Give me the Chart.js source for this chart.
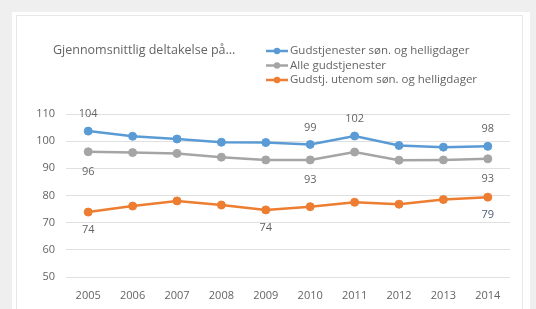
<!DOCTYPE html>
<html>
<head>
<meta charset="utf-8">
<script src="https://cdn.jsdelivr.net/npm/chart.js@4"></script>
<style>
  html, body { margin: 0; padding: 0; background: #efefef; }
  #wrap { position: relative; width: 536px; height: 309px; }
</style>
</head>
<body>
<div id="wrap"><canvas id="chart" width="536" height="309"></canvas></div>
<script>
const years = ['2005', '2006', '2007', '2008', '2009', '2010', '2011', '2012', '2013', '2014'];
const sondag = [103.7, 101.8, 100.8, 99.6, 99.5, 98.8, 101.9, 98.4, 97.8, 98.1];
const alle = [96.1, 95.8, 95.5, 94.1, 93.1, 93.1, 96.0, 93.0, 93.1, 93.5];
const utenom = [73.9, 76.1, 78.0, 76.5, 74.7, 75.9, 77.5, 76.8, 78.5, 79.4];
const labelsSondag = { 0: '104', 5: '99', 6: '102', 9: '98' };
const labelsAlle = { 0: '96', 5: '93', 9: '93' };
const labelsUtenom = { 0: '74', 4: '74', 9: '79' };
const seriesNames = ['Gudstjenester søn. og helligdager', 'Alle gudstjenester', 'Gudstj. utenom søn. og helligdager'];
const chartTitle = 'Gjennomsnittlig deltakelse på...';

const FONT = '"Open Sans", "Liberation Sans", sans-serif';
const TEXT = '#646464';
const colors = ['#5b9bd5', '#a5a5a5', '#ed7d31'];

// card, title, legend and value labels
const decor = {
  id: 'decor',
  beforeDraw(chart) {
    const c = chart.ctx;
    c.save();
    c.fillStyle = '#efefef';
    c.fillRect(0, 0, chart.width, chart.height);
    c.fillStyle = '#ffffff';
    c.fillRect(12, 12, 518, 300);
    c.strokeStyle = '#e8e8e8';
    c.lineWidth = 1;
    c.strokeRect(16.5, 15.5, 506, 300);
    c.restore();
  },
  afterDatasetsDraw(chart) {
    const c = chart.ctx;
    c.save();
    c.fillStyle = TEXT;
    c.font = '12.5px ' + FONT;
    c.textBaseline = 'middle';
    c.fillText(chartTitle, 53, 50);

    c.font = '11.5px ' + FONT;
    chart.data.datasets.forEach((ds, i) => {
      const y = 51 + i * 14.5;
      c.strokeStyle = ds.borderColor;
      c.lineWidth = 2.5;
      c.beginPath();
      c.moveTo(266, y);
      c.lineTo(288, y);
      c.stroke();
      c.fillStyle = ds.borderColor;
      c.beginPath();
      c.arc(277, y, 3.2, 0, Math.PI * 2);
      c.fill();
      c.fillStyle = TEXT;
      c.textAlign = 'left';
      c.fillText(ds.label, 290, y);
    });

    const sets = [[labelsSondag, -17], [labelsAlle, 20], [labelsUtenom, 18]];
    c.font = '11px ' + FONT;
    c.textAlign = 'center';
    sets.forEach(([lbls, dy], i) => {
      const meta = chart.getDatasetMeta(i);
      Object.keys(lbls).forEach(k => {
        const pt = meta.data[+k];
        c.fillStyle = (i === 2 && +k === 9) ? '#4f5a78' : TEXT;
        c.fillText(lbls[k], pt.x, pt.y + dy);
      });
    });
    c.restore();
  }
};

new Chart(document.getElementById('chart'), {
  type: 'line',
  data: {
    labels: years,
    datasets: [sondag, alle, utenom].map((d, i) => ({
      label: seriesNames[i],
      data: d,
      borderColor: colors[i],
      backgroundColor: colors[i],
      borderWidth: 2.5,
      pointRadius: 4,
      pointBorderWidth: 1,
      tension: 0
    }))
  },
  options: {
    responsive: false,
    animation: false,
    layout: { padding: { top: 114, right: 26, left: 0, bottom: 0 } },
    plugins: { legend: { display: false }, tooltip: { enabled: false } },
    scales: {
      x: {
        offset: true,
        grid: { display: false, drawTicks: false },
        border: { display: false },
        ticks: { color: TEXT, font: { family: FONT, size: 11 }, padding: 12, maxRotation: 0 },
        afterFit(s) { s.height = 32; }
      },
      y: {
        min: 50,
        max: 110,
        grid: { color: '#e0e0e0', drawTicks: false },
        border: { display: false },
        ticks: { stepSize: 10, color: TEXT, font: { family: FONT, size: 11 }, padding: 11 },
        afterFit(s) { s.width = 66; }
      }
    }
  },
  plugins: [decor]
});
</script>
</body>
</html>
